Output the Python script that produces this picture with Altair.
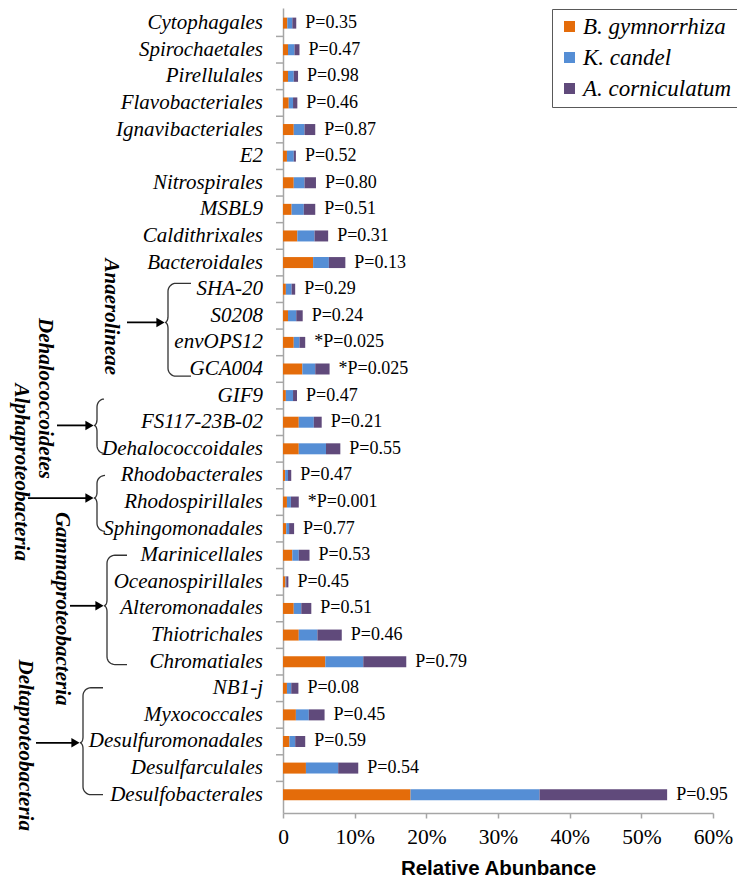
import math
import altair as alt
import pandas as pd

# ---------------- data ----------------
categories = [
    "Cytophagales", "Spirochaetales", "Pirellulales", "Flavobacteriales",
    "Ignavibacteriales", "E2", "Nitrospirales", "MSBL9", "Caldithrixales",
    "Bacteroidales", "SHA-20", "S0208", "envOPS12", "GCA004", "GIF9",
    "FS117-23B-02", "Dehalococcoidales", "Rhodobacterales", "Rhodospirillales",
    "Sphingomonadales", "Marinicellales", "Oceanospirillales", "Alteromonadales",
    "Thiotrichales", "Chromatiales", "NB1-j", "Myxococcales",
    "Desulfuromonadales", "Desulfarculales", "Desulfobacterales",
]
b_gymnorrhiza = [0.6, 0.7, 0.7, 0.8, 1.5, 0.55, 1.5, 1.2, 2.0, 4.2,
                 0.4, 0.7, 1.5, 2.7, 0.4, 2.2, 2.2, 0.3, 0.55, 0.45,
                 1.3, 0.35, 1.5, 2.2, 5.9, 0.55, 1.8, 0.9, 3.2, 17.8]
k_candel = [0.7, 0.9, 0.8, 0.6, 1.5, 0.95, 1.5, 1.7, 2.4, 2.2,
            0.8, 1.15, 0.8, 1.8, 1.0, 2.1, 3.8, 0.4, 0.55, 0.4,
            0.9, 0.1, 1.05, 2.6, 5.3, 0.6, 1.8, 0.8, 4.5, 18.0]
a_corniculatum = [0.55, 0.7, 0.6, 0.6, 1.5, 0.3, 1.6, 1.6, 1.9, 2.3,
                  0.5, 0.9, 0.8, 2.0, 0.55, 1.1, 2.0, 0.45, 1.1, 0.7,
                  1.5, 0.3, 1.4, 3.4, 6.0, 1.0, 2.2, 1.4, 2.8, 17.8]
p_labels = ["P=0.35", "P=0.47", "P=0.98", "P=0.46", "P=0.87", "P=0.52",
            "P=0.80", "P=0.51", "P=0.31", "P=0.13", "P=0.29", "P=0.24",
            "*P=0.025", "*P=0.025", "P=0.47", "P=0.21", "P=0.55", "P=0.47",
            "*P=0.001", "P=0.77", "P=0.53", "P=0.45", "P=0.51", "P=0.46",
            "P=0.79", "P=0.08", "P=0.45", "P=0.59", "P=0.54", "P=0.95"]
series_names = ["B. gymnorrhiza", "K. candel", "A. corniculatum"]
x_ticks = [0, 10, 20, 30, 40, 50, 60]

group_names = ["Anaerolineae", "Dehalococcoidetes", "Alphaproteobacteria",
               "Gammaproteobacteria", "Deltaproteobacteria"]
group_first = ["SHA-20", "GIF9", "Rhodobacterales", "Marinicellales", "NB1-j"]
group_last = ["GCA004", "Dehalococcoidales", "Sphingomonadales", "Chromatiales",
              "Desulfobacterales"]

# ---------------- styles / layout ----------------
colors = ["#E46C0A", "#558ED5", "#604A7B"]
axis_gray = "#A6A6A6"
serif = "Liberation Serif"
sans = "Liberation Sans"

# annotation layout (pixels relative to plot left edge; y tweaks in category units)
brace_layout = [
    dict(top=-0.22, bot=0.27, mid=11.25, xv=-115, xh=-92, ax=-156, lx=-172, ly=11.04),
    dict(top=0.13, bot=0.17, mid=15.12, xv=-186, xh=-179, ax=-226, lx=-238, ly=14.11),
    dict(top=0.0, bot=0.1, mid=17.85, xv=-186, xh=-178, ax=-255, lx=-262, ly=16.88),
    dict(top=0.0, bot=0.11, mid=21.9, xv=-176, xh=-156, ax=-213, lx=-221, ly=22.01),
    dict(top=-0.02, bot=0.0, mid=27.05, xv=-200, xh=-180, ax=-247, lx=-258, ly=27.14),
]

# ---------------- tables ----------------
rows = []
for i, c in enumerate(categories):
    for s, (name, vals) in enumerate(zip(series_names, [b_gymnorrhiza, k_candel, a_corniculatum])):
        rows.append(dict(cat=c, idx=i, series=name, order=s, value=vals[i], plabel=p_labels[i]))
df = pd.DataFrame(rows)
cat_df = pd.DataFrame({"idx": list(range(len(categories))), "cat": categories})
bounds_df = pd.DataFrame({"b": [i + 0.5 for i in range(len(categories) - 1)]})


def brace_points(xv, xh, t, b, m, gid):
    pts = []
    rx = min(8.0, xh - xv)
    ry = 0.3
    p, ry2 = 3.0, 0.22
    n = 8
    pts.append((xh, t))
    cx, cy = xv + rx, t + ry
    for k in range(n + 1):
        th = math.pi / 2 * k / n
        pts.append((cx - rx * math.sin(th), cy - ry * math.cos(th)))
    cx, cy = xv - p, m - ry2
    for k in range(n + 1):
        ph = math.pi / 2 * k / n
        pts.append((cx + p * math.cos(ph), cy + ry2 * math.sin(ph)))
    cx, cy = xv - p, m + ry2
    for k in range(n + 1):
        ph = math.pi / 2 * k / n
        pts.append((cx + p * math.sin(ph), cy - ry2 * math.cos(ph)))
    cx, cy = xv + rx, b - ry
    for k in range(n + 1):
        th = math.pi / 2 * k / n
        pts.append((cx - rx * math.cos(th), cy + ry * math.sin(th)))
    pts.append((xh, b))
    return [dict(g=gid, k=j, px=x, yi=y) for j, (x, y) in enumerate(pts)]


brace_rows, arrow_rows, label_rows = [], [], []
for g, (name, first, last, lay) in enumerate(zip(group_names, group_first, group_last, brace_layout)):
    t = categories.index(first) + lay["top"]
    b = categories.index(last) + lay["bot"]
    brace_rows += brace_points(lay["xv"], lay["xh"], t, b, lay["mid"], g)
    tip = lay["xv"] - 3
    arrow_rows.append(dict(x0=lay["ax"], x1=tip - 5, head=tip - 4.5, yi=lay["mid"]))
    label_rows.append(dict(name=name, lx=lay["lx"], ly=lay["ly"]))
brace_df = pd.DataFrame(brace_rows)
arrow_df = pd.DataFrame(arrow_rows)
glabel_df = pd.DataFrame(label_rows)

# ---------------- scales ----------------
y_scale = alt.Scale(domain=[-0.38, len(categories) - 0.5], reverse=True, nice=False, zero=False)
x_scale = alt.Scale(domain=[0, 60], nice=False, zero=True)

y_axis = alt.Axis(
    labels=False, ticks=False, grid=False, domainColor=axis_gray, domainWidth=1.5, title=None,
)
x_axis = alt.Axis(
    values=x_ticks, labelExpr="datum.value == 0 ? '0' : datum.value + '%'",
    tickSize=5, tickColor=axis_gray, tickWidth=1.5, domainColor=axis_gray, domainWidth=1.5,
    grid=False, labelFont=serif, labelFontSize=21.5, labelColor="black", labelPadding=8,
    labelFlush=False, labelOverlap=False, title="Relative Abunbance", titleFont=sans,
    titleFontWeight="bold", titleFontSize=20.5, titleColor="black", titlePadding=11,
)

bars = alt.Chart(df).transform_stack(
    stack="value", groupby=["idx"], as_=["x0", "x1"],
    sort=[alt.SortField(field="order", order="ascending")],
).mark_bar(size=11, orient="horizontal").encode(
    x=alt.X("x0:Q", scale=x_scale, axis=x_axis),
    x2="x1:Q",
    y=alt.Y("idx:Q", scale=y_scale, axis=y_axis),
    color=alt.Color(
        "series:N",
        scale=alt.Scale(domain=series_names, range=colors),
        legend=alt.Legend(
            title=None, orient="none", legendX=269, legendY=1, direction="vertical",
            symbolType="square", symbolSize=121, symbolStrokeWidth=0,
            labelFont=serif, labelFontStyle="italic", labelFontSize=23, labelColor="black",
            labelOffset=2, rowPadding=7, padding=6, strokeColor="#595959",
            fillColor="white", labelLimit=400,
        ),
    ),
)

cat_text = alt.Chart(cat_df).mark_text(
    align="right", baseline="middle", dx=-20, font=serif, fontStyle="italic",
    fontSize=21, color="black",
).encode(
    x=alt.value(0),
    y=alt.Y("idx:Q", scale=y_scale),
    text="cat:N",
)

ptext = alt.Chart(df).transform_aggregate(
    total="sum(value)", groupby=["idx", "plabel"]
).mark_text(align="left", baseline="middle", dx=9, font=serif, fontSize=18, color="black").encode(
    x=alt.X("total:Q", scale=x_scale),
    y=alt.Y("idx:Q", scale=y_scale),
    text="plabel:N",
)

ticks = alt.Chart(bounds_df).mark_rule(color=axis_gray, strokeWidth=1.5).encode(
    x=alt.value(-7), x2=alt.value(0),
    y=alt.Y("b:Q", scale=y_scale),
)

braces = alt.Chart(brace_df).mark_line(color="#333333", strokeWidth=1.3).encode(
    x=alt.X("px:Q", scale=None),
    y=alt.Y("yi:Q", scale=y_scale),
    detail="g:N",
    order="k:Q",
)

arrows = alt.Chart(arrow_df).mark_rule(color="black", strokeWidth=1.8).encode(
    x=alt.X("x0:Q", scale=None),
    x2="x1:Q",
    y=alt.Y("yi:Q", scale=y_scale),
)

heads = alt.Chart(arrow_df).mark_point(
    shape="triangle-right", filled=True, size=90, color="black", opacity=1
).encode(
    x=alt.X("head:Q", scale=None),
    y=alt.Y("yi:Q", scale=y_scale),
)

glabels = alt.Chart(glabel_df).mark_text(
    angle=90, align="center", baseline="middle", font=serif, fontStyle="italic",
    fontWeight="bold", fontSize=21, color="black",
).encode(
    x=alt.X("lx:Q", scale=None),
    y=alt.Y("ly:Q", scale=y_scale),
    text="name:N",
)

chart = alt.layer(bars, cat_text, ptext, ticks, braces, arrows, heads, glabels).properties(
    width=430, height=805,
    autosize=alt.AutoSizeParams(type="none"),
    padding={"left": 275, "top": 0, "right": 24, "bottom": 68},
    background="white",
).configure_view(
    stroke=None
).configure_axis(
    labelOverlap=False, labelFlush=False
)

chart.save("out.html", embed_options={"renderer": "svg", "actions": False})
